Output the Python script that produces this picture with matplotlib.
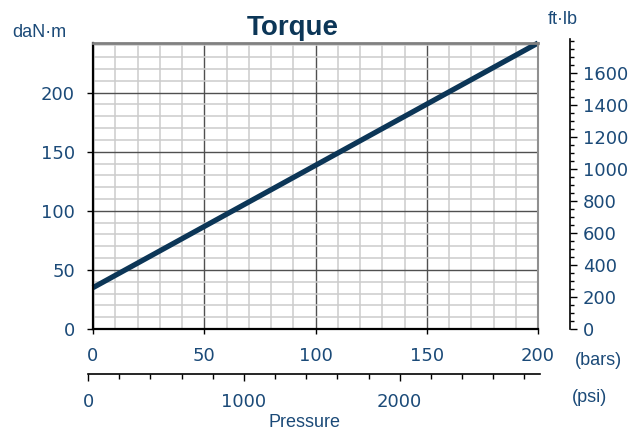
import matplotlib
matplotlib.use("Agg")
import matplotlib.pyplot as plt
import numpy as np
from matplotlib.ticker import MultipleLocator

# Data
pressure_bar = [0, 200]
torque_danm = [35, 242]
bar_ticks = [0, 50, 100, 150, 200]
danm_ticks = [0, 50, 100, 150, 200]
ftlb_ticks = [0, 200, 400, 600, 800, 1000, 1200, 1400, 1600]
psi_ticks = [0, 1000, 2000]

DANM_TO_FTLB = 7.3756
W, H = 644, 436
fig = plt.figure(figsize=(W / 100, H / 100), dpi=100)

TXT = '#1b4a78'
DARK = '#0c3657'
NUMFONT = 'DejaVu Sans'
LBLFONT = 'Liberation Sans'
NUMSIZE = 13
LBLSIZE = 13
PX = 0.72  # points per pixel

def fx(px):
    return px / W

def fy(py):
    return 1 - py / H

left, right, top, bot = 93, 538, 43, 329
ax = fig.add_axes([fx(left), fy(bot), fx(right - left), (bot - top) / H])
ymax = 242
ax.set_xlim(0, 200)
ax.set_ylim(0, ymax)
ax.set_xticks(bar_ticks)
ax.set_yticks(danm_ticks)
ax.xaxis.set_minor_locator(MultipleLocator(10))
ax.yaxis.set_minor_locator(MultipleLocator(10))
ax.grid(which='minor', color='#cccccc', lw=1.1)
ax.grid(which='major', color='#505050', lw=1.0)
ax.set_axisbelow(True)
ax.tick_params(which='minor', length=0)
ax.tick_params(axis='y', which='major', length=6 * PX, width=1, color='black',
               labelsize=NUMSIZE, labelcolor=TXT, pad=12 * PX)
ax.tick_params(axis='x', which='major', length=5 * PX, width=1, color='black',
               labelsize=NUMSIZE, labelcolor=TXT, pad=13 * PX)
for lab in ax.get_xticklabels() + ax.get_yticklabels():
    lab.set_fontfamily(NUMFONT)
ax.spines['left'].set_color('black')
ax.spines['bottom'].set_color('black')
ax.spines['left'].set_linewidth(1.6)
ax.spines['bottom'].set_linewidth(1.6)
ax.spines['top'].set_color('#808080')
ax.spines['right'].set_color('#909090')
ax.spines['top'].set_linewidth(2)
ax.spines['right'].set_linewidth(1.5)

ax.plot(pressure_bar, torque_danm, color=DARK, lw=3.8, solid_capstyle='butt',
        clip_on=False)

# Right ft-lb axis (same scale as main axis, spine slightly taller)
rx, rtop = 570, 39
axr = fig.add_axes([fx(rx - 50), fy(bot), fx(50), (bot - rtop) / H])
axr.patch.set_visible(False)
for s in ['top', 'left', 'bottom']:
    axr.spines[s].set_visible(False)
axr.spines['right'].set_color('black')
axr.spines['right'].set_linewidth(1.2)
axr.set_xticks([])
axr.set_ylim(0, ymax * DANM_TO_FTLB * (bot - rtop) / (bot - top))
axr.yaxis.tick_right()
axr.set_yticks(ftlb_ticks)
axr.yaxis.set_minor_locator(MultipleLocator(50))
axr.tick_params(which='major', length=7 * PX, width=1, labelsize=NUMSIZE,
                labelcolor=TXT, pad=6 * PX)
axr.tick_params(which='minor', length=4 * PX, width=1)
for lab in axr.get_yticklabels():
    lab.set_fontfamily(NUMFONT)

# psi axis
pl, pr, py = 88, 540, 374
axp = fig.add_axes([fx(pl), fy(py), fx(pr - pl), 0.0001])
axp.patch.set_visible(False)
for s in ['top', 'left', 'right']:
    axp.spines[s].set_visible(False)
axp.spines['bottom'].set_color('black')
axp.spines['bottom'].set_linewidth(1.2)
axp.set_yticks([])
axp.set_xlim(0, 2900)
axp.set_xticks(psi_ticks)
axp.xaxis.set_minor_locator(MultipleLocator(200))
axp.tick_params(which='major', length=7 * PX, width=1, labelsize=NUMSIZE,
                labelcolor=TXT, pad=12 * PX)
axp.tick_params(which='minor', length=5 * PX, width=1)
for lab in axp.get_xticklabels():
    lab.set_fontfamily(NUMFONT)

# Texts
fig.text(fx(292.5), fy(35), 'Torque', ha='center', va='baseline', fontsize=20,
         fontweight='bold', color=DARK, family=LBLFONT)
fig.text(fx(12), fy(37), 'daN·m', ha='left', va='baseline', fontsize=LBLSIZE,
         color=TXT, family=LBLFONT)
fig.text(fx(548), fy(24), 'ft·lb', ha='left', va='baseline', fontsize=LBLSIZE,
         color=TXT, family=LBLFONT)
fig.text(fx(575), fy(365), '(bars)', ha='left', va='baseline', fontsize=LBLSIZE,
         color=TXT, family=LBLFONT)
fig.text(fx(572), fy(402), '(psi)', ha='left', va='baseline', fontsize=LBLSIZE,
         color=TXT, family=LBLFONT)
fig.text(fx(305), fy(427), 'Pressure', ha='center', va='baseline', fontsize=LBLSIZE,
         color=TXT, family=LBLFONT)

fig.savefig('out.png', dpi=100)
